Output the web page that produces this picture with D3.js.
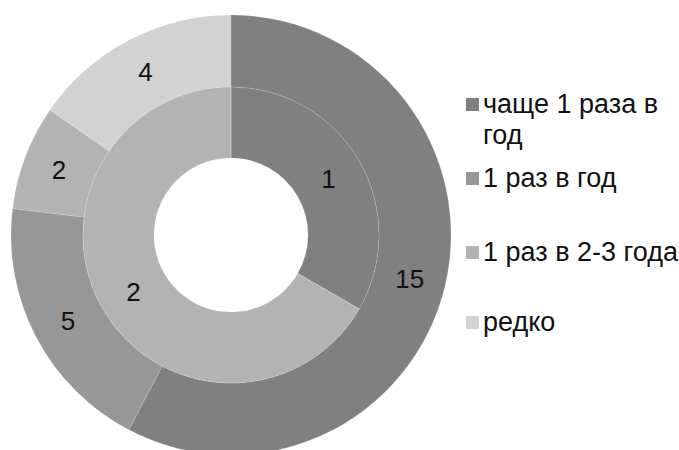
<!DOCTYPE html>
<html>
<head>
<meta charset="utf-8">
<script src="https://cdn.jsdelivr.net/npm/d3@7"></script>
<style>
  html, body { margin: 0; padding: 0; background: #fff; }
  svg { display: block; font-family: Arial, "Liberation Sans", sans-serif; }
</style>
</head>
<body>
<svg id="chart" width="679" height="450"></svg>
<script>
// ── data ──
const categories  = ['чаще 1 раза в год', '1 раз в год', '1 раз в 2-3 года', 'редко'];
const outerValues = [15, 5, 2, 4];
const innerValues = [1, 0, 2, 0];
const colors      = ['#808080', '#979797', '#b3b3b3', '#d2d2d2'];

const W = 679, H = 450;
const cx = 231, cy = 235;
const R_HOLE = 77, R_MID = 148, R_OUT = 220;
const LABEL_FONT = 26, LEGEND_FONT = 27;

const svg = d3.select('#chart');
const color = d3.scaleOrdinal(categories, colors);

const pie = d3.pie().sort(null).value(d => d.v);

function ring(values, r0, r1) {
  const data = values.map((v, i) => ({ v, cat: categories[i] }));
  const arc = d3.arc().innerRadius(r0).outerRadius(r1);
  const g = svg.append('g').attr('transform', `translate(${cx},${cy})`);

  g.selectAll('path')
    .data(pie(data))
    .join('path')
    .attr('d', arc)
    .attr('fill', d => color(d.data.cat))
    .attr('stroke', '#fff')
    .attr('stroke-width', 0.4)
    .attr('stroke-opacity', 0.35);

  g.selectAll('text')
    .data(pie(data).filter(d => d.data.v > 0))
    .join('text')
    .attr('transform', d => `translate(${arc.centroid(d)})`)
    .attr('text-anchor', 'middle')
    .attr('dy', '0.36em')
    .attr('font-size', LABEL_FONT)
    .attr('fill', '#111')
    .text(d => d.data.v);
}

ring(outerValues, R_MID, R_OUT);
ring(innerValues, R_HOLE, R_MID);

// ── legend ──
const legendX = 466, textX = 483, maxW = 679 - textX;
const baselines = [113, 187, 261, 331];
const lineH = 31;

const lg = svg.append('g');
categories.forEach((c, i) => {
  const y = baselines[i];
  lg.append('rect')
    .attr('x', legendX).attr('y', y - 15)
    .attr('width', 13).attr('height', 13)
    .attr('fill', color(c));

  const t = lg.append('text')
    .attr('x', textX).attr('y', y)
    .attr('font-size', LEGEND_FONT)
    .attr('fill', '#111');

  // simple word wrap
  const words = c.split(' ');
  let line = [], tspan = t.append('tspan').attr('x', textX).attr('dy', 0);
  words.forEach(w => {
    line.push(w);
    tspan.text(line.join(' '));
    if (tspan.node().getComputedTextLength() > maxW && line.length > 1) {
      line.pop();
      tspan.text(line.join(' '));
      line = [w];
      tspan = t.append('tspan').attr('x', textX).attr('dy', lineH).text(w);
    }
  });
});
</script>
</body>
</html>
